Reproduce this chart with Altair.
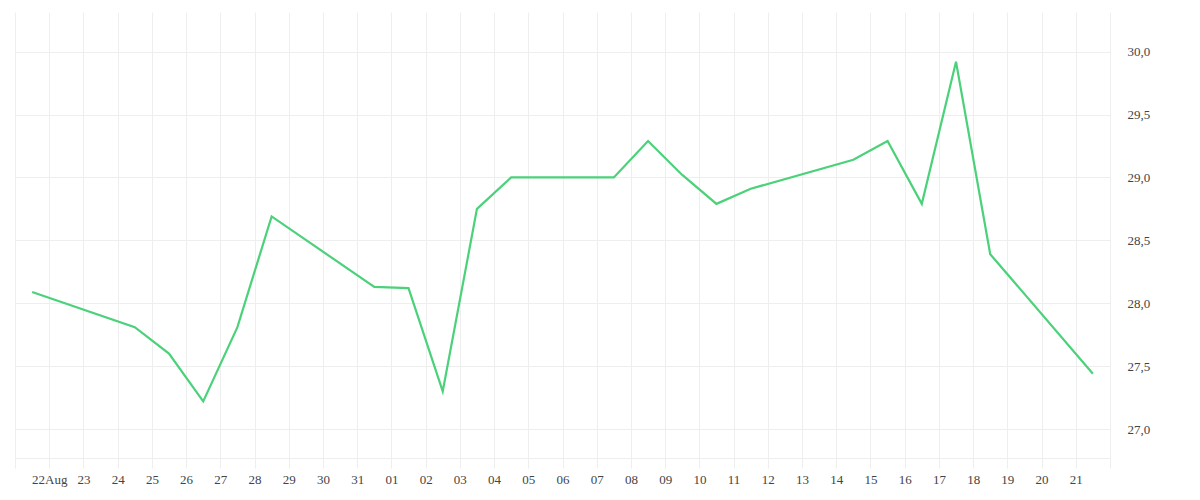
import altair as alt
import pandas as pd

# Data (daily values, plotted at midday UTC)
dates = [
    "2023-08-21", "2023-08-24", "2023-08-25", "2023-08-26", "2023-08-27",
    "2023-08-28", "2023-08-31", "2023-09-01", "2023-09-02", "2023-09-03",
    "2023-09-04", "2023-09-07", "2023-09-08", "2023-09-09", "2023-09-10",
    "2023-09-11", "2023-09-14", "2023-09-15", "2023-09-16", "2023-09-17",
    "2023-09-18", "2023-09-21",
]
values = [
    28.09, 27.81, 27.60, 27.22, 27.81,
    28.69, 28.13, 28.12, 27.30, 28.75,
    29.00, 29.00, 29.29, 29.02, 28.79,
    28.91, 29.14, 29.29, 28.79, 29.92,
    28.39, 27.44,
]
y_ticks = [27.0, 27.5, 28.0, 28.5, 29.0, 29.5, 30.0]
first_tick_label = "22Aug"

df = pd.DataFrame({
    "date": [d + "T12:00:00Z" for d in dates],
    "value": values,
})

tick_days = pd.date_range("2023-08-21", "2023-09-22", freq="D", tz="UTC")
tick_ms = [int(t.value // 10**6) for t in tick_days]
t_first, t_label0, t_last = tick_ms[0], tick_ms[1], tick_ms[-1]

label_expr = (
    f"time(datum.value) == {t_label0} ? '{first_tick_label}' : "
    f"(time(datum.value) == {t_first} || time(datum.value) == {t_last}) ? '' : "
    "utcFormat(datum.value, '%d')"
)

grid_color = "#eeeeee"
font = "Liberation Serif"

chart = alt.Chart(df).mark_line(color="#4cd17b", strokeWidth=2.2).encode(
    x=alt.X(
        "date:T",
        title=None,
        scale=alt.Scale(type="utc", domain=[t_first, t_last]),
        axis=alt.Axis(
            values=tick_ms,
            labelExpr=label_expr,
            grid=True,
            gridColor=grid_color,
            domainColor=grid_color,
            tickColor=grid_color,
            tickSize=10,
            labelPadding=5,
            labelFont=font,
            labelFontSize=13,
            labelColor="#444444",
            labelOverlap=False,
            labelFlush=False,
        ),
    ),
    y=alt.Y(
        "value:Q",
        title=None,
        scale=alt.Scale(domain=[26.77, 30.315], nice=False, zero=False),
        axis=alt.Axis(
            orient="right",
            values=y_ticks,
            labelExpr="replace(format(datum.value, '.1f'), '.', ',')",
            grid=True,
            gridColor=grid_color,
            domain=False,
            ticks=False,
            labelPadding=17,
            labelFont=font,
            labelFontSize=13,
            labelColor="#444444",
        ),
    ),
).properties(
    width=1095,
    height=446,
    autosize=alt.AutoSizeParams(type="none"),
    padding={"left": 7, "top": 4, "right": 70, "bottom": 42},
).configure_view(stroke=None)

chart.save("out.html", embed_options={"renderer": "svg", "actions": False})
